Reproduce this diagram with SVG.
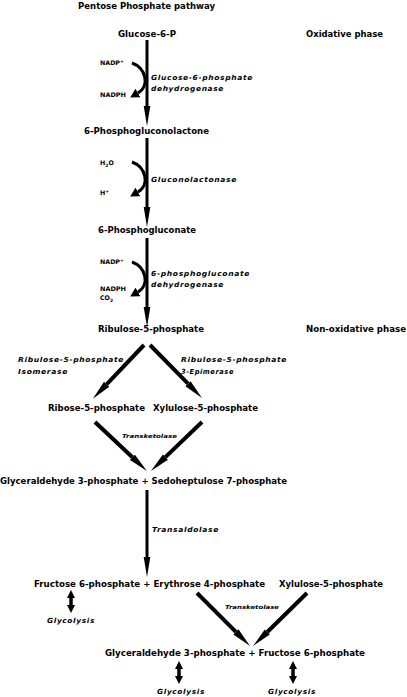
<svg xmlns="http://www.w3.org/2000/svg" width="407" height="697" viewBox="0 0 407 697">
<defs>
<style>
text{font-family:"DejaVu Sans","Liberation Sans",sans-serif;font-weight:bold;fill:#000}
.b{font-size:8px}
.e{font-size:7px;font-style:italic;letter-spacing:0.6px}
.t{font-size:5.5px;font-style:italic}
.s{font-size:6.3px}
.sh{stroke:#000;stroke-width:3;fill:none}
.dg{stroke:#000;stroke-width:4;fill:none}
.db{stroke:#000;stroke-width:3.5;fill:none}
</style>
<marker id="hv" markerUnits="userSpaceOnUse" markerWidth="20" markerHeight="8" viewBox="0 0 20 8" refX="0" refY="4" orient="auto"><path d="M0,0.7 L20,4 L0,7.3 z" fill="#000"/></marker>
<marker id="hd" markerUnits="userSpaceOnUse" markerWidth="20" markerHeight="8" viewBox="0 0 20 8" refX="0" refY="4" orient="auto"><path d="M0,0.4 L20,4 L0,7.6 z" fill="#000"/></marker>
<marker id="hc" markerUnits="userSpaceOnUse" markerWidth="9" markerHeight="10" viewBox="0 0 9 10" refX="0" refY="5" orient="auto"><path d="M0,0 L9,5 L0,10 z" fill="#000"/></marker>
<marker id="hb" markerUnits="userSpaceOnUse" markerWidth="8" markerHeight="8" viewBox="0 0 8 8" refX="0" refY="4" orient="auto-start-reverse"><path d="M0,0 L8,4 L0,8 z" fill="#000"/></marker>
</defs>
<rect width="407" height="697" fill="#fff"/>

<g id="connectors">
<line class="sh" x1="147" y1="40" x2="147" y2="106" marker-end="url(#hv)"/>
<line class="sh" x1="147" y1="138" x2="147" y2="207" marker-end="url(#hv)"/>
<line class="sh" x1="147" y1="238" x2="147" y2="307" marker-end="url(#hv)"/>
<line class="sh" x1="147" y1="490" x2="147" y2="557" marker-end="url(#hv)"/>
<path class="sh" d="M132,63 C146,68 150,86 138,93" marker-end="url(#hc)"/>
<path class="sh" d="M132,162 C146,167 150,185 138,192" marker-end="url(#hc)"/>
<path class="sh" d="M132,262 C146,267 150,285 138,292" marker-end="url(#hc)"/>
<line class="dg" x1="144" y1="345" x2="106.6" y2="384.3" marker-end="url(#hd)"/>
<line class="dg" x1="150" y1="345" x2="188" y2="383.7" marker-end="url(#hd)"/>
<line class="dg" x1="95" y1="422" x2="132.4" y2="457.3" marker-end="url(#hd)"/>
<line class="dg" x1="202" y1="422" x2="165.4" y2="457.1" marker-end="url(#hd)"/>
<line class="dg" x1="197" y1="593" x2="235.9" y2="631.9" marker-end="url(#hd)"/>
<line class="dg" x1="307" y1="593" x2="267.3" y2="632" marker-end="url(#hd)"/>
<line class="db" x1="71" y1="598" x2="71" y2="605" marker-start="url(#hb)" marker-end="url(#hb)"/>
<line class="db" x1="179" y1="669" x2="179" y2="676" marker-start="url(#hb)" marker-end="url(#hb)"/>
<line class="db" x1="293" y1="669" x2="293" y2="676" marker-start="url(#hb)" marker-end="url(#hb)"/>
</g>

<text class="b" x="78" y="9" textLength="137" lengthAdjust="spacingAndGlyphs">Pentose Phosphate pathway</text>
<text class="b" x="306" y="37" textLength="77" lengthAdjust="spacingAndGlyphs">Oxidative phase</text>
<text class="b" x="306" y="332" textLength="100" lengthAdjust="spacingAndGlyphs">Non-oxidative phase</text>

<g id="glucose6p"><text class="b" x="118" y="37" textLength="58" lengthAdjust="spacingAndGlyphs">Glucose-6-P</text></g>
<g id="g6pd">
<text class="e" x="151" y="80" textLength="102" lengthAdjust="spacingAndGlyphs">Glucose-6-phosphate</text>
<text class="e" x="151" y="91" textLength="73" lengthAdjust="spacingAndGlyphs">dehydrogenase</text>
<text class="s" x="100" y="65">NADP<tspan font-size="4.5" dy="-2">+</tspan></text>
<text class="s" x="100" y="97" textLength="26" lengthAdjust="spacingAndGlyphs">NADPH</text>
</g>
<g id="lactone"><text class="b" x="84" y="134" textLength="125" lengthAdjust="spacingAndGlyphs">6-Phosphogluconolactone</text></g>
<g id="lactonase">
<text class="e" x="151" y="182" textLength="86" lengthAdjust="spacingAndGlyphs">Gluconolactonase</text>
<text class="s" x="100" y="165">H<tspan font-size="4.5" dy="1.5">2</tspan><tspan dy="-1.5">O</tspan></text>
<text class="s" x="100" y="195">H<tspan font-size="4.5" dy="-2">+</tspan></text>
</g>
<g id="gluconate"><text class="b" x="98" y="233" textLength="98" lengthAdjust="spacingAndGlyphs">6-Phosphogluconate</text></g>
<g id="6pgd">
<text class="e" x="151" y="276" textLength="99" lengthAdjust="spacingAndGlyphs">6-phosphogluconate</text>
<text class="e" x="151" y="287" textLength="73" lengthAdjust="spacingAndGlyphs">dehydrogenase</text>
<text class="s" x="100" y="264">NADP<tspan font-size="4.5" dy="-2">+</tspan></text>
<text class="s" x="100" y="291" textLength="26" lengthAdjust="spacingAndGlyphs">NADPH</text>
<text class="s" x="100" y="300">CO<tspan font-size="4.5" dy="1.5">2</tspan></text>
</g>
<g id="ribulose5p"><text class="b" x="98" y="332" textLength="106" lengthAdjust="spacingAndGlyphs">Ribulose-5-phosphate</text></g>
<g id="isomerase">
<text class="e" x="18" y="362" textLength="106" lengthAdjust="spacingAndGlyphs">Ribulose-5-phosphate</text>
<text class="e" x="18" y="374" textLength="50" lengthAdjust="spacingAndGlyphs">Isomerase</text>
</g>
<g id="epimerase">
<text class="e" x="181" y="362" textLength="106" lengthAdjust="spacingAndGlyphs">Ribulose-5-phosphate</text>
<text class="e" x="181" y="374" textLength="53" lengthAdjust="spacingAndGlyphs">3-Epimerase</text>
</g>
<g id="ribose5p"><text class="b" x="48" y="411" textLength="97" lengthAdjust="spacingAndGlyphs">Ribose-5-phosphate</text></g>
<g id="xylulose5p"><text class="b" x="153" y="411" textLength="105" lengthAdjust="spacingAndGlyphs">Xylulose-5-phosphate</text></g>
<g id="transketolase1"><text class="t" x="122" y="438" textLength="55" lengthAdjust="spacingAndGlyphs">Transketolase</text></g>
<g id="g3p_s7p"><text class="b" x="0" y="484" textLength="287" lengthAdjust="spacingAndGlyphs">Glyceraldehyde 3-phosphate + Sedoheptulose 7-phosphate</text></g>
<g id="transaldolase"><text class="e" x="152" y="532" textLength="67" lengthAdjust="spacingAndGlyphs">Transaldolase</text></g>
<g id="f6p_e4p"><text class="b" x="34" y="587" textLength="231" lengthAdjust="spacingAndGlyphs">Fructose 6-phosphate + Erythrose 4-phosphate</text></g>
<g id="xylulose5p2"><text class="b" x="279" y="587" textLength="104" lengthAdjust="spacingAndGlyphs">Xylulose-5-phosphate</text></g>
<g id="glycolysis1"><text class="e" x="47" y="623" textLength="48" lengthAdjust="spacingAndGlyphs">Glycolysis</text></g>
<g id="transketolase2"><text class="t" x="225" y="609" textLength="54" lengthAdjust="spacingAndGlyphs">Transketolase</text></g>
<g id="g3p_f6p"><text class="b" x="105" y="656" textLength="260" lengthAdjust="spacingAndGlyphs">Glyceraldehyde 3-phosphate + Fructose 6-phosphate</text></g>
<g id="glycolysis2"><text class="e" x="157" y="694" textLength="48" lengthAdjust="spacingAndGlyphs">Glycolysis</text></g>
<g id="glycolysis3"><text class="e" x="268" y="694" textLength="48" lengthAdjust="spacingAndGlyphs">Glycolysis</text></g>
</svg>
